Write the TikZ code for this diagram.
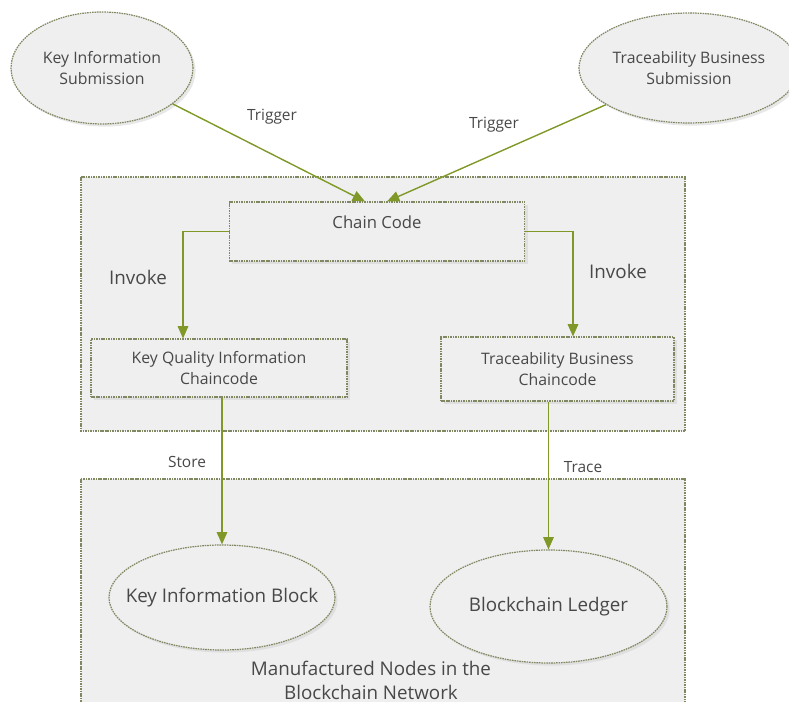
\documentclass[tikz,border=0pt]{standalone}
\usepackage{fontspec}
\setmainfont{Open Sans}
\usetikzlibrary{arrows.meta,shapes.geometric,shadows}

\definecolor{linkgreen}{RGB}{128,152,40}
\definecolor{edgegray}{RGB}{128,136,98}
\definecolor{panelfill}{RGB}{239,239,239}
\definecolor{inkgray}{RGB}{72,72,72}

\begin{document}
\begin{tikzpicture}[x=0.02cm, y=-0.02cm,
    every node/.style={text=inkgray, font=\fontsize{9}{12}\selectfont},
    panel/.style={draw=edgegray, dash pattern=on 0.9pt off 0.5pt, line width=0.6pt, fill=panelfill},
    codebox/.style={rectangle, draw=edgegray, dash pattern=on 0.9pt off 0.5pt, line width=0.6pt, fill=panelfill, align=center, inner sep=0pt,
        drop shadow={shadow xshift=1.5pt, shadow yshift=-1.5pt, fill=black!18}},
    bubble/.style={ellipse, draw=edgegray, dash pattern=on 0.9pt off 0.5pt, line width=0.7pt, fill=panelfill, align=center, inner sep=0pt,
        drop shadow={shadow xshift=1.5pt, shadow yshift=-1.5pt, fill=black!18}},
    link/.style={draw=linkgreen, thick, -{Triangle[length=7pt,width=6pt]}},
    tag/.style={font=\fontsize{8.8}{11}\selectfont},
    bigtag/.style={font=\fontsize{10.7}{13.6}\selectfont}
]
\useasboundingbox (0,0) rectangle (789,702);

% the two panels
\draw[panel] (81,177) rectangle (685,431);
\draw[panel] (81,479) rectangle (685,712);

% submissions
\node[bubble, minimum width=3.64cm, minimum height=2.24cm] (keysub) at (102,68) {Key Information\\Submission};
\node[bubble, minimum width=4.4cm, minimum height=2.2cm] (tracesub) at (689,68) {Traceability Business\\Submission};

% chaincode panel
\node[codebox, minimum width=5.92cm, minimum height=1.18cm,
      label={[anchor=north, yshift=-0.16cm, font=\fontsize{9.5}{12}\selectfont]north:Chain Code}] (chain) at (377,231.5) {};
\node[codebox, minimum width=5.12cm, minimum height=1.16cm] (keycc) at (219,368) {Key Quality Information\\Chaincode};
\node[codebox, minimum width=4.66cm, minimum height=1.28cm] (tracecc) at (557.5,369) {Traceability Business\\Chaincode};

% ledger panel
\node[bubble, minimum width=4.52cm, minimum height=2.1cm,
      label={[bigtag]center:Key Information Block}] (keyblock) at (222,597.5) {};
\node[bubble, minimum width=4.74cm, minimum height=2.26cm,
      label={[bigtag]center:Blockchain Ledger}] (ledger) at (548.5,606.5) {};
\node[bigtag, align=center] (network) at (371,680) {Manufactured Nodes in the\\Blockchain Network};

% connectors
\draw[link] (keysub) -- ([xshift=-0.24cm]chain.north);
\draw[link] (tracesub) -- ([xshift=0.2cm]chain.north);
\draw[link] (chain.west) -| ([xshift=-0.72cm]keycc.north);
\draw[link] (chain.east) -| ([xshift=0.31cm]tracecc.north);
\draw[link] (keyblock.north |- keycc.south) -- (keyblock.north);
\draw[link] (ledger.north |- tracecc.south) -- (ledger.north);

% labels
\node[tag] (trigleft) at (272,117) {Trigger};
\node[tag] (trigright) at (494,125) {Trigger};
\node[bigtag] (invleft) at (138,277) {Invoke};
\node[bigtag] (invright) at (618,271) {Invoke};
\node[tag] (storelbl) at (187,462) {Store};
\node[tag] (tracelbl) at (583,467) {Trace};

\end{tikzpicture}
\end{document}
